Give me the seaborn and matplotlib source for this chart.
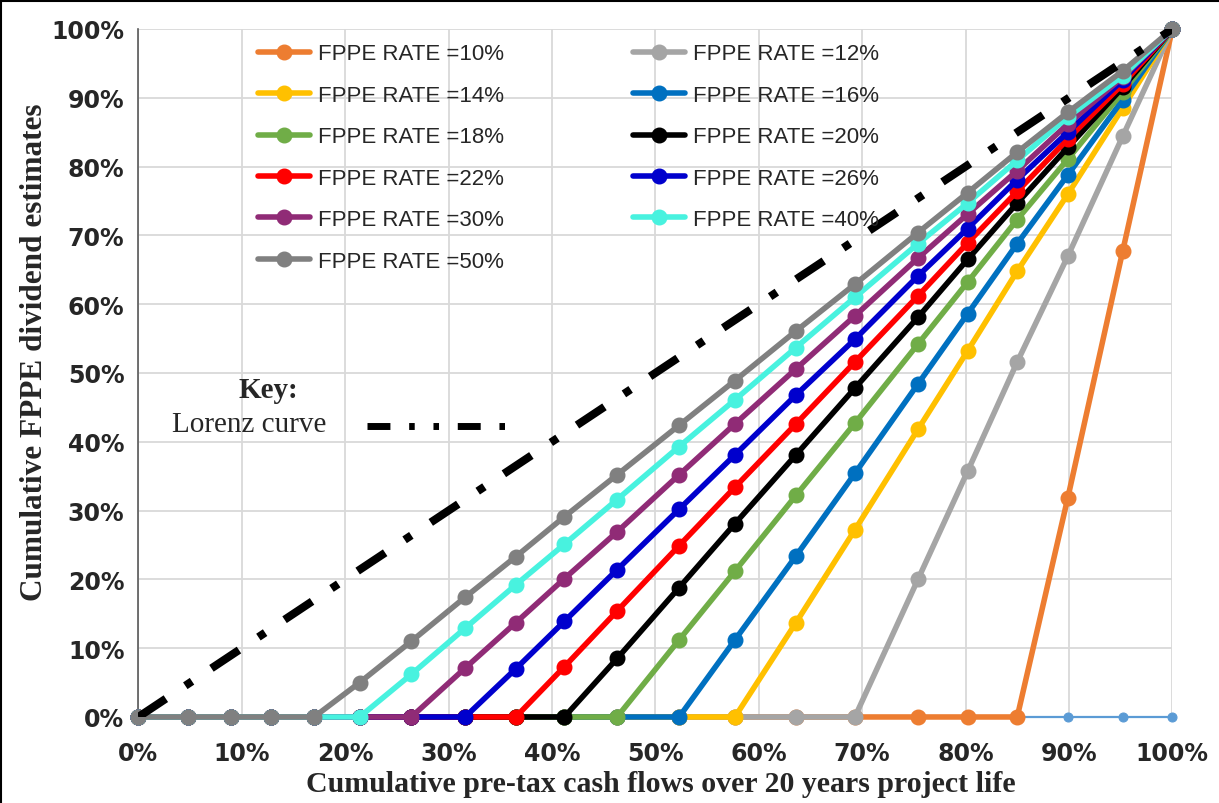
import matplotlib
matplotlib.use("Agg")
import matplotlib.pyplot as plt
from matplotlib.lines import Line2D
import seaborn as sns

################################################################################
# data (in %)
cash_flow_pct = [0, 4.8, 9.0, 12.8, 17.0, 21.4, 26.4, 31.6, 36.5, 41.2, 46.3,
                 52.3, 57.7, 63.6, 69.3, 75.4, 80.2, 85.0, 89.9, 95.2, 100]

rate_10 = [0, 0, 0, 0, 0, 0, 0, 0, 0, 0, 0, 0, 0, 0, 0, 0, 0, 0, 31.9, 67.7, 100]
rate_12 = [0, 0, 0, 0, 0, 0, 0, 0, 0, 0, 0, 0, 0, 0, 0, 20.0, 35.7, 51.6, 67.0, 84.4, 100]
rate_14 = [0, 0, 0, 0, 0, 0, 0, 0, 0, 0, 0, 0, 0, 13.7, 27.2, 41.8, 53.2, 64.8, 76.0, 88.5, 100]
rate_16 = [0, 0, 0, 0, 0, 0, 0, 0, 0, 0, 0, 0, 11.2, 23.4, 35.4, 48.4, 58.6, 68.8, 78.8, 89.7, 100]
rate_18 = [0, 0, 0, 0, 0, 0, 0, 0, 0, 0, 0, 11.2, 21.2, 32.2, 42.7, 54.2, 63.2, 72.3, 81.1, 90.8, 100]
rate_20 = [0, 0, 0, 0, 0, 0, 0, 0, 0, 0, 8.5, 18.8, 28.1, 38.1, 47.8, 58.1, 66.5, 74.7, 82.8, 91.5, 100]
rate_22 = [0, 0, 0, 0, 0, 0, 0, 0, 0, 7.3, 15.4, 24.9, 33.4, 42.6, 51.6, 61.2, 68.9, 76.4, 84.0, 92.0, 100]
rate_26 = [0, 0, 0, 0, 0, 0, 0, 0, 7.0, 13.9, 21.4, 30.2, 38.1, 46.8, 54.9, 64.1, 71.0, 78.1, 85.0, 92.6, 100]
rate_30 = [0, 0, 0, 0, 0, 0, 0, 7.1, 13.7, 20.1, 26.9, 35.2, 42.6, 50.6, 58.3, 66.7, 73.1, 79.4, 86.2, 93.0, 100]
rate_40 = [0, 0, 0, 0, 0, 0, 6.2, 12.9, 19.2, 25.1, 31.6, 39.3, 46.1, 53.7, 61.0, 68.8, 74.7, 80.9, 87.2, 93.2, 100]
rate_50 = [0, 0, 0, 0, 0, 5.0, 11.0, 17.4, 23.3, 29.1, 35.2, 42.4, 48.9, 56.1, 62.9, 70.4, 76.2, 82.1, 87.9, 93.9, 100]
zero_line = [0] * 21

lorenz_x = [0, 100]
lorenz_y = [0, 100]

series = [
    ("FPPE RATE =10%", rate_10, "#ED7D31"),
    ("FPPE RATE =12%", rate_12, "#A5A5A5"),
    ("FPPE RATE =14%", rate_14, "#FFC000"),
    ("FPPE RATE =16%", rate_16, "#0070C0"),
    ("FPPE RATE =18%", rate_18, "#70AD47"),
    ("FPPE RATE =20%", rate_20, "#000000"),
    ("FPPE RATE =22%", rate_22, "#FF0000"),
    ("FPPE RATE =26%", rate_26, "#0000CD"),
    ("FPPE RATE =30%", rate_30, "#902B76"),
    ("FPPE RATE =40%", rate_40, "#48F2DF"),
    ("FPPE RATE =50%", rate_50, "#808080"),
]
pct_ticks = [0, 10, 20, 30, 40, 50, 60, 70, 80, 90, 100]
pct_labels = [f"{t}%" for t in pct_ticks]

################################################################################
sns.set_style("white")
plt.rcParams["font.family"] = ["DejaVu Sans"]

fig = plt.figure(figsize=(12.19, 8.04), dpi=100)
ax = fig.add_axes([0.1135, 0.107, 0.8482, 0.8557])

# flat zero series underneath everything
sns.lineplot(x=cash_flow_pct, y=zero_line, ax=ax, color="#5B9BD5", lw=1.6,
             marker="o", markersize=6.5, markeredgecolor="#5B9BD5",
             clip_on=False, zorder=2)

for label, vals, col in series:
    sns.lineplot(x=cash_flow_pct, y=vals, ax=ax, color=col, lw=4.0,
                 marker="o", markersize=10.5, markeredgecolor=col,
                 markeredgewidth=1, label=label, clip_on=False, zorder=3)

# Lorenz curve (line of equality)
sns.lineplot(x=lorenz_x, y=lorenz_y, ax=ax, color="black", lw=5.8,
             linestyle=(0, (4.1, 2.9, 1.0, 2.9)), zorder=4, legend=False)

ax.set_xlim(0, 100)
ax.set_ylim(0, 100)
ax.set_xticks(pct_ticks)
ax.set_yticks(pct_ticks)
ax.set_xticklabels(pct_labels, fontsize=17, fontweight="bold")
ax.set_yticklabels(pct_labels, fontsize=17, fontweight="bold")
ax.tick_params(axis="x", length=0, pad=17)
ax.tick_params(axis="y", length=0, pad=10)
ax.grid(True, color="#D9D9D9", lw=1.3)
ax.set_axisbelow(True)
for s in ["top", "right", "bottom"]:
    ax.spines[s].set_visible(False)
ax.spines["left"].set_color("#595959")
ax.spines["left"].set_linewidth(1.2)

ax.set_xlabel("Cumulative pre-tax cash flows over 20 years project life",
              fontsize=21.5, fontweight="bold", family="Liberation Serif")
ax.set_ylabel("Cumulative FPPE dividend estimates",
              fontsize=22.5, fontweight="bold", family="Liberation Serif")
ax.xaxis.set_label_coords(0.5055, -0.096)
ax.xaxis.label.set_verticalalignment("center")
ax.yaxis.set_label_coords(-0.1, 0.532)
ax.yaxis.label.set_verticalalignment("center")

# legend laid out row by row (10 | 12, 14 | 16, ...)
handles, labels = ax.get_legend_handles_labels()
order = [0, 2, 4, 6, 8, 10, 1, 3, 5, 7, 9]
ax.legend([handles[i] for i in order], [labels[i] for i in order],
          ncol=2, frameon=False, loc="upper left",
          bbox_to_anchor=(0.1158, 0.979), borderpad=0, borderaxespad=0,
          prop={"family": "Liberation Sans", "size": 16},
          handlelength=2.35, handletextpad=0.36, columnspacing=5.8,
          labelspacing=0.92)

# key for the Lorenz curve
fig.text(0.2199, 0.5137, "Key:", fontsize=21, fontweight="bold",
         family="Liberation Serif", ha="center", va="center")
fig.text(0.1411, 0.4714, "Lorenz curve", fontsize=21,
         family="Liberation Serif", ha="left", va="center")
fig.add_artist(Line2D([0.301, 0.4184], [0.4689, 0.4689], transform=fig.transFigure,
                      color="black", lw=5,
                      linestyle=(0, (3.3, 2.7, 0.8, 2.7, 0.8, 2.7))))

# outer frame of the picture
fig.add_artist(Line2D([0, 1], [0.998, 0.998], transform=fig.transFigure, color="black", lw=1.5))
fig.add_artist(Line2D([0.001, 0.001], [0, 1], transform=fig.transFigure, color="black", lw=1.5))

fig.savefig("out.png", dpi=100)
